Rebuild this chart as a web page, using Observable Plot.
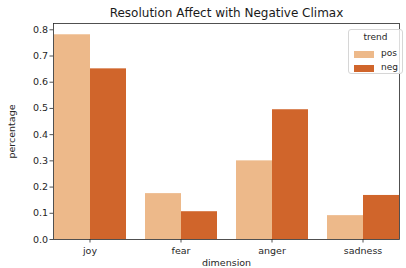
<!DOCTYPE html>
<html><head><meta charset="utf-8">
<script src="https://cdn.jsdelivr.net/npm/d3@7"></script>
<script src="https://cdn.jsdelivr.net/npm/@observablehq/plot@0.6"></script>
<style>
body{margin:0;background:#fff;font-family:"DejaVu Sans",sans-serif;}
#wrap{position:relative;width:406px;height:268px;overflow:hidden;}
#legend{position:absolute;left:348px;top:29px;width:55px;height:45px;box-sizing:border-box;border:1px solid #d6d6d6;border-radius:3px;background:rgba(255,255,255,0.8);font-size:9px;color:#262626;}
#legend .ttl{position:absolute;left:0;width:100%;top:2px;text-align:center;}
#legend .row{position:absolute;left:5px;height:12px;}
#legend .sw{position:absolute;left:0;top:3px;width:20px;height:7px;}
#legend .lb{position:absolute;left:27px;top:0px;}
</style></head>
<body><div id="wrap"></div>
<script>
const title = "Resolution Affect with Negative Climax";
const dimensions = ["joy", "fear", "anger", "sadness"];
const trends = ["pos", "neg"];
const posValues = [0.781, 0.175, 0.300, 0.091];
const negValues = [0.651, 0.106, 0.495, 0.168];
const yTicks = [0, 0.1, 0.2, 0.3, 0.4, 0.5, 0.6, 0.7, 0.8];
const colors = ["#edb98a", "#d0652b"];

const data = [];
dimensions.forEach((d, i) => {
  data.push({dimension: d, trend: "pos", value: posValues[i]});
  data.push({dimension: d, trend: "neg", value: negValues[i]});
});

const chart = Plot.plot({
  width: 406, height: 268,
  marginLeft: 43, marginRight: -3, marginTop: 23, marginBottom: 29,
  style: {fontFamily: "DejaVu Sans, sans-serif", fontSize: "9px", color: "#262626", background: "#fff"},
  fx: {domain: dimensions, paddingInner: 0.2, paddingOuter: 0.1, label: null},
  x: {domain: trends, padding: 0, axis: null},
  y: {domain: [0, 0.824]},
  color: {domain: trends, range: colors},
  marks: [
    Plot.barY(data, {fx: "dimension", x: "trend", y: "value", fill: "trend"}),
    Plot.axisY({ticks: yTicks, tickSize: 3.5, tickPadding: 2, tickFormat: d3.format(".1f"), label: "percentage", labelAnchor: "center", labelArrow: "none", labelOffset: 45, fontSize: 9.5, stroke: "#262626", strokeWidth: 0.8}),
    Plot.axisFx({anchor: "bottom", tickSize: 3.5, tickPadding: 4, label: "dimension", labelAnchor: "center", labelArrow: "none", labelOffset: 26, fontSize: 9.5, stroke: "#262626", strokeWidth: 0.8}),
    Plot.frame({facet: "super", stroke: "#262626", strokeWidth: 0.8}),
    Plot.text([title], {facet: "super", frameAnchor: "top", lineAnchor: "middle", dy: -10, fontSize: 12, fill: "#1a1a1a"})
  ]
});
const wrap = document.getElementById("wrap");
wrap.appendChild(chart);

const legend = document.createElement("div");
legend.id = "legend";
let html = '<div class="ttl">trend</div>';
trends.forEach((t, i) => {
  html += `<div class="row" style="top:${18 + i * 14}px"><div class="sw" style="background:${colors[i]}"></div><div class="lb">${t}</div></div>`;
});
legend.innerHTML = html;
wrap.appendChild(legend);
</script>
</body></html>
